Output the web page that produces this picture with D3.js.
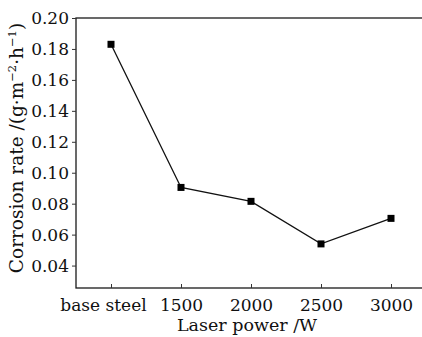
<!DOCTYPE html>
<html>
<head>
<meta charset="utf-8">
<script src="https://cdn.jsdelivr.net/npm/d3@7"></script>
<style>
  html, body { margin: 0; padding: 0; background: #fff; }
  svg { display: block; font-family: "DejaVu Serif", serif; }
</style>
</head>
<body>
<div id="chart"></div>
<script>
const categories = ['base steel', '1500', '2000', '2500', '3000'];
const corrosionRate = [0.183, 0.0905, 0.0815, 0.054, 0.0705];
const yTicks = [0.04, 0.06, 0.08, 0.10, 0.12, 0.14, 0.16, 0.18, 0.20];

const W = 422, H = 337;
const margin = { top: 18, left: 76 };
const width = 350;   // plot runs past the right edge, as in the source figure
const height = 270;
const serif = '"DejaVu Serif", serif';

const svg = d3.select('#chart')
  .append('svg')
    .attr('width', W)
    .attr('height', H);

const g = svg.append('g')
  .attr('transform', `translate(${margin.left},${margin.top})`);

const x = d3.scalePoint()
  .domain(categories)
  .range([0, width])
  .padding(0.5);

const y = d3.scaleLinear()
  .domain([0.0255, 0.20])
  .range([height, 0]);

// frame
g.append('rect')
  .attr('x', 0).attr('y', 0)
  .attr('width', width).attr('height', height)
  .attr('fill', 'none')
  .attr('stroke', '#1a1a1a')
  .attr('stroke-width', 1.3);

// y axis, ticks pointing out
g.append('g')
  .call(d3.axisLeft(y).tickValues(yTicks).tickFormat(d3.format('.2f')).tickSize(4).tickPadding(3))
  .attr('font-family', serif)
  .attr('font-size', 17)
  .call(a => a.select('.domain').remove())
  .call(a => a.selectAll('line').attr('stroke', '#333'))
  .selectAll('text')
    .attr('fill', '#111');

// x axis, ticks pointing in
g.append('g')
  .attr('transform', `translate(0,${height})`)
  .call(d3.axisBottom(x).tickSize(-4).tickPadding(11))
  .attr('font-family', serif)
  .attr('font-size', 17)
  .call(a => a.select('.domain').remove())
  .call(a => a.selectAll('line').attr('stroke', '#333'))
  .selectAll('text')
    .attr('fill', '#111')
    .attr('dx', d => d === 'base steel' ? -8 : 0);

const data = categories.map((c, i) => ({ cat: c, v: corrosionRate[i] }));

g.append('path')
  .datum(data)
  .attr('fill', 'none')
  .attr('stroke', '#111')
  .attr('stroke-width', 1.3)
  .attr('d', d3.line().x(d => x(d.cat)).y(d => y(d.v)));

g.selectAll('rect.pt')
  .data(data)
  .join('rect')
    .attr('class', 'pt')
    .attr('x', d => x(d.cat) - 3.5)
    .attr('y', d => y(d.v) - 3.5)
    .attr('width', 7)
    .attr('height', 7)
    .attr('fill', '#000');

// axis titles
svg.append('text')
  .attr('x', margin.left + x('2000') - 4)
  .attr('y', 331)
  .attr('text-anchor', 'middle')
  .attr('fill', '#111')
  .style('font-size', '17.5px')
  .text('Laser power /W');

const yl = svg.append('text')
  .attr('transform', `translate(23,148) rotate(-90)`)
  .attr('text-anchor', 'middle')
  .attr('fill', '#111')
  .style('font-size', '18.5px');
yl.append('tspan').text('Corrosion rate /(g·m');
yl.append('tspan').attr('dy', -7).style('font-size', '11.5px').text('−2');
yl.append('tspan').attr('dy', 7).text('·h');
yl.append('tspan').attr('dy', -7).style('font-size', '11.5px').text('−1');
yl.append('tspan').attr('dy', 7).text(')');
</script>
</body>
</html>
